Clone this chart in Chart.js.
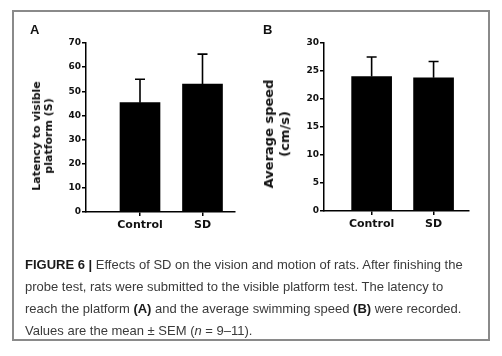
<!DOCTYPE html>
<html>
<head>
<meta charset="utf-8">
<script src="https://cdn.jsdelivr.net/npm/chart.js@4.4.0/dist/chart.umd.min.js"></script>
<style>
  html, body { margin:0; padding:0; background:#fff; }
  #wrap { position:relative; width:502px; height:356px; background:#fff; overflow:hidden; }
  #box { position:absolute; left:12px; top:10px; width:478px; height:331px; box-sizing:border-box; border:2px solid #8a8a8a; }
  canvas { position:absolute; left:0; top:0; }
  .panel { position:absolute; font-family:"Liberation Sans", Arial, sans-serif; font-weight:bold; font-size:13px; line-height:13px; color:#111; }
  .ytitle { position:absolute; font-family:"DejaVu Sans", sans-serif; font-weight:bold; color:#111; text-align:center; white-space:nowrap; transform:translate(-50%,-50%) rotate(-90deg); }
  #caption { position:absolute; left:25px; top:254px; font-family:"Liberation Sans", Arial, sans-serif; font-size:13px; line-height:22px; color:#3a3a3a; white-space:nowrap; }
  #caption b { color:#1a1a1a; }
</style>
</head>
<body>
<div id="wrap">
  <div id="box"></div>
  <canvas id="cA" width="502" height="356"></canvas>
  <canvas id="cB" width="502" height="356"></canvas>
  <div class="panel" style="left:30px;top:23px;">A</div>
  <div class="panel" style="left:263px;top:23px;">B</div>
  <div class="ytitle" style="left:43px;top:136px;font-size:11px;line-height:12px;">Latency to visible<br>platform (S)</div>
  <div class="ytitle" style="left:277px;top:134px;font-size:13px;line-height:16px;">Average speed<br>(cm/s)</div>
  <div id="caption"><b>FIGURE 6 |</b> Effects of SD on the vision and motion of rats. After finishing the<br>probe test, rats were submitted to the visible platform test. The latency to<br>reach the platform <b>(A)</b> and the average swimming speed <b>(B)</b> were recorded.<br>Values are the mean ± SEM (<i>n</i> = 9–11).</div>
</div>
<script>
const categories = ['Control', 'SD'];
const latencyMean = [45.3, 53.0];
const latencySem = [9.7, 12.4];
const speedMean = [24.0, 23.8];
const speedSem = [3.5, 2.9];
const latencyTicks = [0, 10, 20, 30, 40, 50, 60, 70];
const speedTicks = [0, 5, 10, 15, 20, 25, 30];

const errorBars = {
  id: 'errorBars',
  afterDatasetsDraw(chart) {
    const ctx = chart.ctx;
    const ys = chart.scales.y;
    chart.data.datasets.forEach((ds, di) => {
      const meta = chart.getDatasetMeta(di);
      meta.data.forEach((el, i) => {
        const v = ds.data[i].y;
        const e = ds.sem[i];
        const yTop = ys.getPixelForValue(v + e);
        ctx.save();
        ctx.strokeStyle = '#000';
        ctx.lineWidth = 1.6;
        ctx.beginPath();
        ctx.moveTo(el.x, el.y);
        ctx.lineTo(el.x, yTop);
        ctx.moveTo(el.x - 5, yTop);
        ctx.lineTo(el.x + 5, yTop);
        ctx.stroke();
        ctx.restore();
      });
    });
  }
};

function makeChart(id, means, sems, ticks, area, xRange) {
  const W = 502, H = 356;
  return new Chart(document.getElementById(id), {
    type: 'bar',
    data: {
      datasets: [{
        data: means.map((m, i) => ({ x: i + 1, y: m })),
        sem: sems,
        backgroundColor: '#000',
        borderColor: '#000',
        borderWidth: 0,
        barThickness: 40
      }]
    },
    options: {
      responsive: false,
      animation: false,
      events: [],
      layout: { padding: { left: 0, top: area.top, right: W - area.right, bottom: 0 } },
      plugins: { legend: { display: false }, tooltip: { enabled: false } },
      scales: {
        x: {
          type: 'linear',
          offset: false,
          min: xRange[0], max: xRange[1],
          afterFit(s) { s.height = H - area.bottom; },
          afterBuildTicks(s) { s.ticks = categories.map((c, i) => ({ value: i + 1 })); },
          grid: { display: true, offset: false, drawOnChartArea: false, drawTicks: true, tickLength: 4, color: '#000', lineWidth: 1.5 },
          border: { display: true, color: '#000', width: 1.5 },
          ticks: {
            autoSkip: false, maxRotation: 0, padding: 3, color: '#111',
            font: { family: 'DejaVu Sans', weight: 'bold', size: 11 },
            callback: (v) => categories[v - 1] || ''
          }
        },
        y: {
          min: ticks[0], max: ticks[ticks.length - 1],
          afterFit(s) { s.width = area.left; },
          afterBuildTicks(s) { s.ticks = ticks.map(v => ({ value: v })); },
          grid: { display: true, drawOnChartArea: false, drawTicks: true, tickLength: 4, color: '#000', lineWidth: 1.5 },
          border: { display: true, color: '#000', width: 1.5 },
          ticks: {
            padding: 1, color: '#111',
            font: { family: 'DejaVu Sans', weight: 'bold', size: 9 }
          }
        }
      }
    },
    plugins: [errorBars]
  });
}

makeChart('cA', latencyMean, latencySem, latencyTicks, { left: 86, right: 235, top: 43, bottom: 212 }, [0.136, 2.52]);
makeChart('cB', speedMean, speedSem, speedTicks, { left: 324, right: 469, top: 43, bottom: 211 }, [0.231, 2.572]);
</script>
</body>
</html>
